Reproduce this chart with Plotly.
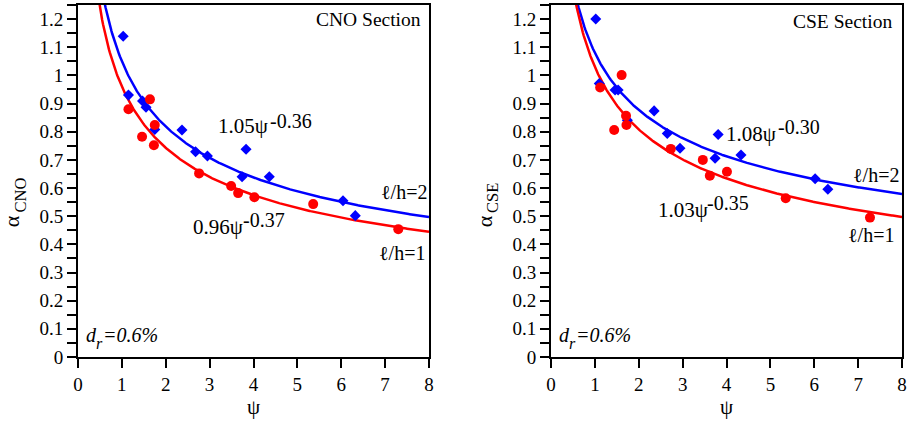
import numpy as np
import plotly.graph_objects as go

W, H = 910, 424

# ---------------- data ----------------
# CNO section (left)
cno_l2_psi = [1.03, 1.15, 1.47, 1.55, 1.75, 2.37, 2.68, 2.95, 3.83, 3.74, 4.36, 6.04, 6.32]
cno_l2_alpha = [1.139, 0.930, 0.909, 0.887, 0.808, 0.806, 0.729, 0.714, 0.738, 0.640, 0.640, 0.555, 0.502]
cno_l1_psi = [1.64, 1.15, 1.75, 1.46, 1.73, 2.76, 3.49, 3.65, 4.02, 5.36, 7.30]
cno_l1_alpha = [0.915, 0.880, 0.824, 0.782, 0.752, 0.652, 0.607, 0.582, 0.567, 0.543, 0.454]

# CSE section (right)
cse_l2_psi = [1.02, 1.10, 1.46, 1.53, 1.74, 2.35, 2.65, 2.94, 3.81, 3.74, 4.33, 6.02, 6.31]
cse_l2_alpha = [1.200, 0.971, 0.948, 0.948, 0.841, 0.874, 0.794, 0.741, 0.790, 0.706, 0.717, 0.633, 0.596]
cse_l1_psi = [1.61, 1.12, 1.71, 1.72, 1.44, 2.73, 3.46, 3.62, 4.01, 5.35, 7.27]
cse_l1_alpha = [1.001, 0.957, 0.857, 0.824, 0.806, 0.739, 0.700, 0.644, 0.658, 0.564, 0.495]

# fitted power laws alpha = a * psi^b  (from the chart labels)
cno_fit_a = [1.05, 0.96]   # l/h=2, l/h=1
cno_fit_b = [-0.36, -0.37]
cse_fit_a = [1.08, 1.03]
cse_fit_b = [-0.30, -0.35]

x_ticks = [0, 1, 2, 3, 4, 5, 6, 7, 8]
y_ticks = [0, 0.1, 0.2, 0.3, 0.4, 0.5, 0.6, 0.7, 0.8, 0.9, 1, 1.1, 1.2]
y_ticklabels = ["0", "0.1", "0.2", "0.3", "0.4", "0.5", "0.6", "0.7", "0.8", "0.9", "1", "1.1", "1.2"]

# ---------------- styling ----------------
BLUE = "#0000ff"
RED = "#ff0000"
FONT = "Liberation Serif, Times New Roman, serif"

fig = go.Figure()

psi_curve = np.linspace(0.3, 8.0, 400)

panels = [
    ("x", "y", cno_l2_psi, cno_l2_alpha, cno_l1_psi, cno_l1_alpha, cno_fit_a, cno_fit_b),
    ("x2", "y2", cse_l2_psi, cse_l2_alpha, cse_l1_psi, cse_l1_alpha, cse_fit_a, cse_fit_b),
]
for xa, ya, p2, a2, p1, a1, fa, fb in panels:
    for a, b, col in [(fa[0], fb[0], BLUE), (fa[1], fb[1], RED)]:
        fig.add_trace(go.Scatter(x=psi_curve, y=a * psi_curve ** b, mode="lines",
                                 line=dict(color=col, width=2.5), xaxis=xa, yaxis=ya,
                                 showlegend=False, hoverinfo="skip"))
    fig.add_trace(go.Scatter(x=p2, y=a2, mode="markers",
                             marker=dict(symbol="diamond", size=8.5, color=BLUE),
                             xaxis=xa, yaxis=ya, showlegend=False))
    fig.add_trace(go.Scatter(x=p1, y=a1, mode="markers",
                             marker=dict(symbol="circle", size=10, color=RED),
                             xaxis=xa, yaxis=ya, showlegend=False))

def px(x):
    return x / W

def py(y):
    return 1 - y / H

y_dom = [py(357), py(5)]
xdoms = [[px(78), px(429)], [px(551), px(902)]]

axis_common = dict(showgrid=False, zeroline=False, showline=True, mirror=True,
                   linecolor="black", linewidth=2, ticks="outside", tickwidth=2,
                   ticklen=9, tickcolor="black", automargin=False,
                   tickfont=dict(family=FONT, size=19, color="black"))

xtitle = dict(text="ψ", font=dict(family=FONT, size=21, color="black"), standoff=6)

fig.update_layout(
    width=W, height=H, margin=dict(l=0, r=0, t=0, b=0, pad=0),
    paper_bgcolor="white", plot_bgcolor="white",
    xaxis=dict(domain=xdoms[0], range=[0, 8], tickvals=x_ticks, anchor="y",
               title=xtitle, **axis_common),
    xaxis2=dict(domain=xdoms[1], range=[0, 8], tickvals=x_ticks, anchor="y2",
                title=xtitle, **axis_common),
    yaxis=dict(domain=y_dom, range=[0, 1.25], tickvals=y_ticks, ticktext=y_ticklabels,
               anchor="x", minor=dict(dtick=0.05, tick0=0, ticks="outside", ticklen=9,
                                      tickwidth=2, tickcolor="black"), **axis_common),
    yaxis2=dict(domain=y_dom, range=[0, 1.25], tickvals=y_ticks, ticktext=y_ticklabels,
                anchor="x2", minor=dict(dtick=0.05, tick0=0, ticks="outside", ticklen=9,
                                        tickwidth=2, tickcolor="black"), **axis_common),
)

ann = []

def text(x, y, s, size=20, xanchor="left", angle=0, italic=False):
    if italic:
        s = "<i>" + s + "</i>"
    ann.append(dict(x=px(x), y=py(y), xref="paper", yref="paper", text=s, showarrow=False,
                    xanchor=xanchor, yanchor="middle", textangle=angle, borderpad=0,
                    font=dict(family=FONT, size=size, color="black")))

off = 473  # horizontal offset of the right panel

# section names
text(422, 20, "CNO Section", size=19.5, xanchor="right")
text(893, 21, "CSE Section", size=19.5, xanchor="right")

# equations (main + superscript)
text(216.7, 126, "1.05ψ", size=21)
text(269, 120.5, "-0.36", size=20)
text(191.7, 227, "0.96ψ", size=21)
text(241.7, 220.5, "-0.37", size=20)
text(725, 134, "1.08ψ", size=21)
text(777.3, 127, "-0.30", size=20)
text(656.7, 210, "1.03ψ", size=21)
text(706, 203, "-0.35", size=20)

# l/h labels
text(428, 191.7, "ℓ/h=2", xanchor="right")
text(426, 253.3, "ℓ/h=1", xanchor="right")
text(900, 175, "ℓ/h=2", xanchor="right")
text(895, 235, "ℓ/h=1", xanchor="right")

# d_r = 0.6%  (main letter, subscript, rest)
for dx in (0, off):
    text(85 + dx, 335, "d", italic=True)
    text(95 + dx, 343, "r", size=16, italic=True)
    text(101.5 + dx, 335, "=0.6%", italic=True)

# y-axis titles (alpha + subscript)
text(11.3, 221, "α", size=22, xanchor="center", angle=-90)
text(19.5, 195, "CNO", size=16.5, xanchor="center", angle=-90)
text(11.3 + off, 221, "α", size=22, xanchor="center", angle=-90)
text(19.5 + off, 197.5, "CSE", size=16.5, xanchor="center", angle=-90)

fig.update_layout(annotations=ann)
fig.write_html(
    "out.html",
    config={"displayModeBar": False, "staticPlot": True},
    post_script=("document.documentElement.style.margin='0';"
                 "document.documentElement.style.overflow='hidden';"
                 "document.body.style.margin='0';document.body.style.padding='0';"
                 "document.body.style.overflow='hidden';"),
)
